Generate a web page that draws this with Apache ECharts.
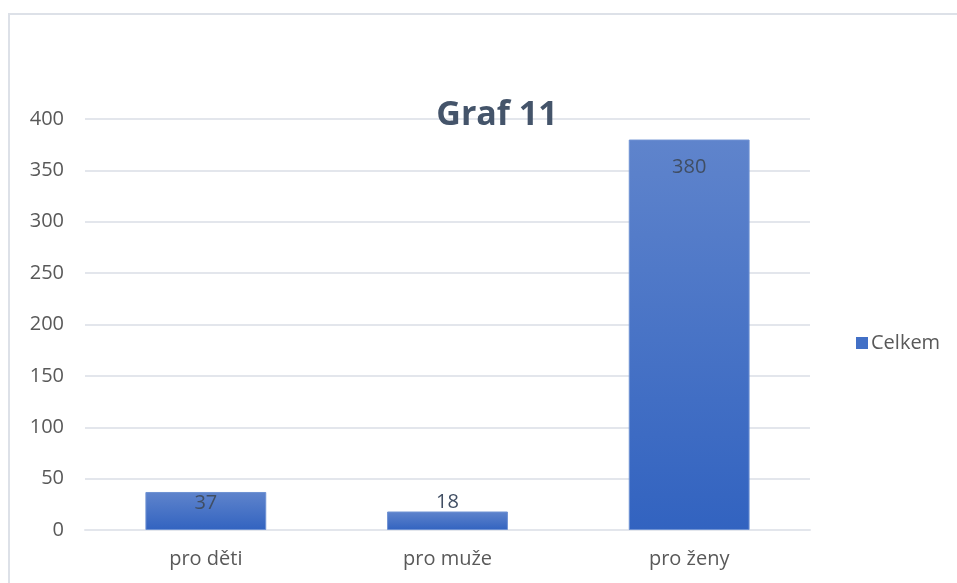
<!DOCTYPE html>
<html><head><meta charset="utf-8">
<script src="https://cdn.jsdelivr.net/npm/echarts@6/dist/echarts.min.js"></script>
<style>html,body{margin:0;padding:0;background:#fff}#c{width:957px;height:583px}</style>
</head><body><div id="c"></div>
<script>
const categories = ['pro děti', 'pro muže', 'pro ženy'];
const values = [37, 18, 380];
const seriesName = 'Celkem';
const titleText = 'Graf 11';

const labelOffsets = [1, -19, 18];
const font = '"Open Sans", "Noto Sans", sans-serif';
const chart = echarts.init(document.getElementById('c'));
chart.setOption({
  animation: false,
  textStyle: { fontFamily: font },
  graphic: [{
    type: 'rect', shape: { x: 9, y: 14, width: 1200, height: 1000 },
    style: { fill: 'none', stroke: '#dde1e8', lineWidth: 2 }, z: -1
  }],
  title: {
    text: titleText, left: 492, top: 93, textAlign: 'center',
    textStyle: { fontFamily: font, fontSize: 34, fontWeight: 'bold', color: '#44546a' }
  },
  legend: {
    data: [seriesName], left: 851, top: 328, orient: 'vertical',
    icon: 'rect', itemWidth: 12, itemHeight: 12, itemGap: 5,
    itemStyle: { color: '#4270c6', borderWidth: 0 },
    textStyle: { fontFamily: font, fontSize: 20, color: '#595959', padding: [0, 0, 0, -2] }
  },
  grid: { left: 85, right: 147, top: 119, bottom: 53, containLabel: false },
  xAxis: {
    type: 'category', data: categories,
    axisLine: { show: true, lineStyle: { color: '#e3e6ec', width: 2 } },
    axisTick: { show: false },
    axisLabel: { fontFamily: font, fontSize: 20, color: '#595959', margin: 19 }
  },
  yAxis: {
    type: 'value', min: 0, max: 400, interval: 50,
    axisLine: { show: false }, axisTick: { show: false },
    splitLine: { lineStyle: { color: '#e3e6ec', width: 2 } },
    axisLabel: { fontFamily: font, fontSize: 20, color: '#595959', margin: 21 }
  },
  series: [{
    name: seriesName, type: 'bar', barCategoryGap: '50%',
    data: values.map((v, i) => ({
      value: v,
      label: { offset: [0, labelOffsets[i]] }
    })),
    itemStyle: {
      color: new echarts.graphic.LinearGradient(0, 0, 0, 1, [
        { offset: 0, color: '#5f84cc' },
        { offset: 1, color: '#3263c0' }
      ]),
      borderColor: '#6f92d3', borderWidth: 1
    },
    label: {
      show: true, position: 'insideTop', distance: 0,
      fontFamily: font, fontSize: 20, color: '#404e63'
    }
  }]
});
</script></body></html>
